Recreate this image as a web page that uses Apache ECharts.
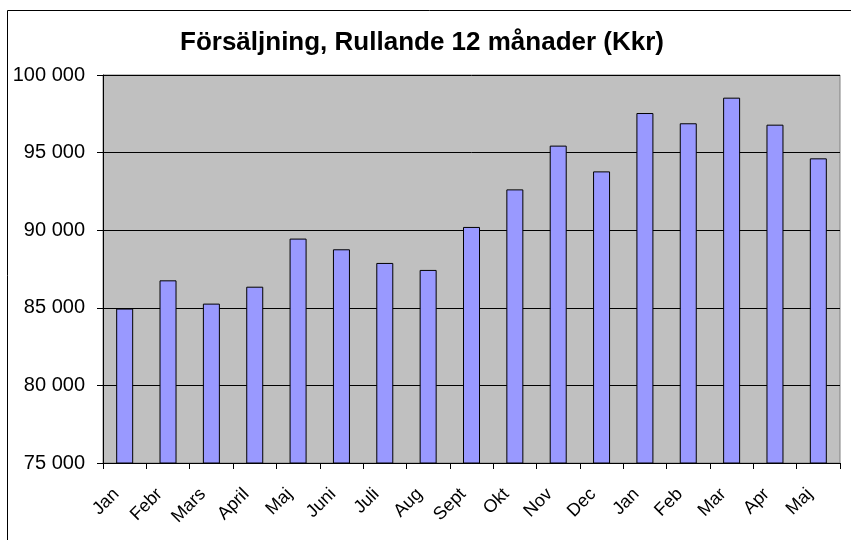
<!DOCTYPE html>
<html>
<head>
<meta charset="utf-8">
<script src="https://cdn.jsdelivr.net/npm/echarts@6/dist/echarts.min.js"></script>
<style>
  html, body { margin: 0; padding: 0; background: #fff; }
  #chart { width: 851px; height: 540px; }
</style>
</head>
<body>
<div id="chart"></div>
<script>
// manader (rullande 12)
var months = ['Jan', 'Febr', 'Mars', 'April', 'Maj', 'Juni', 'Juli', 'Aug', 'Sept',
              'Okt', 'Nov', 'Dec', 'Jan', 'Feb', 'Mar', 'Apr', 'Maj'];
// forsaljning Kkr
var sales = [84950, 86770, 85270, 86360, 89460, 88770, 87890, 87440, 90210,
             92630, 95450, 93790, 97550, 96890, 98540, 96800, 94630];

function fmt(v) {
    return String(v).replace(/\B(?=(\d{3})+(?!\d))/g, ' ');
}

var chart = echarts.init(document.getElementById('chart'));
var option = {
    animation: false,
    textStyle: { fontFamily: 'Liberation Sans, Arial, sans-serif' },
    title: {
        text: 'Försäljning, Rullande 12 månader (Kkr)',
        left: 175,
        top: 25,
        textStyle: {
            color: '#000',
            fontSize: 26,
            fontWeight: 'bold',
            fontFamily: 'Liberation Sans, Arial, sans-serif'
        }
    },
    graphic: [{
        type: 'rect',
        shape: { x: 7.5, y: 10.5, width: 860, height: 560 },
        style: { fill: null, stroke: '#000', lineWidth: 1 },
        z: 100
    }],
    grid: {
        left: 103,
        right: 11,
        top: 75,
        bottom: 77,
        show: true,
        backgroundColor: '#c0c0c0',
        borderColor: '#808080',
        borderWidth: 1
    },
    xAxis: {
        type: 'category',
        data: months,
        boundaryGap: true,
        axisLine: { lineStyle: { color: '#000', width: 1 } },
        axisTick: { show: true, length: 6, lineStyle: { color: '#000' } },
        axisLabel: {
            rotate: 45,
            interval: 0,
            margin: 20,
            padding: [0, 12, 0, 0],
            color: '#000',
            fontSize: 18
        }
    },
    yAxis: {
        type: 'value',
        min: 75000,
        max: 100000,
        interval: 5000,
        axisLine: { show: true, lineStyle: { color: '#000', width: 1 } },
        axisTick: { show: true, length: 6, lineStyle: { color: '#000' } },
        splitLine: { show: true, lineStyle: { color: '#000', width: 1 } },
        axisLabel: {
            margin: 18,
            color: '#000',
            fontSize: 20,
            formatter: fmt
        }
    },
    series: [{
        type: 'bar',
        data: sales,
        barWidth: 17,
        itemStyle: {
            color: '#9999ff',
            borderColor: '#000',
            borderWidth: 1
        }
    }]
};
chart.setOption(option);
</script>
</body>
</html>
